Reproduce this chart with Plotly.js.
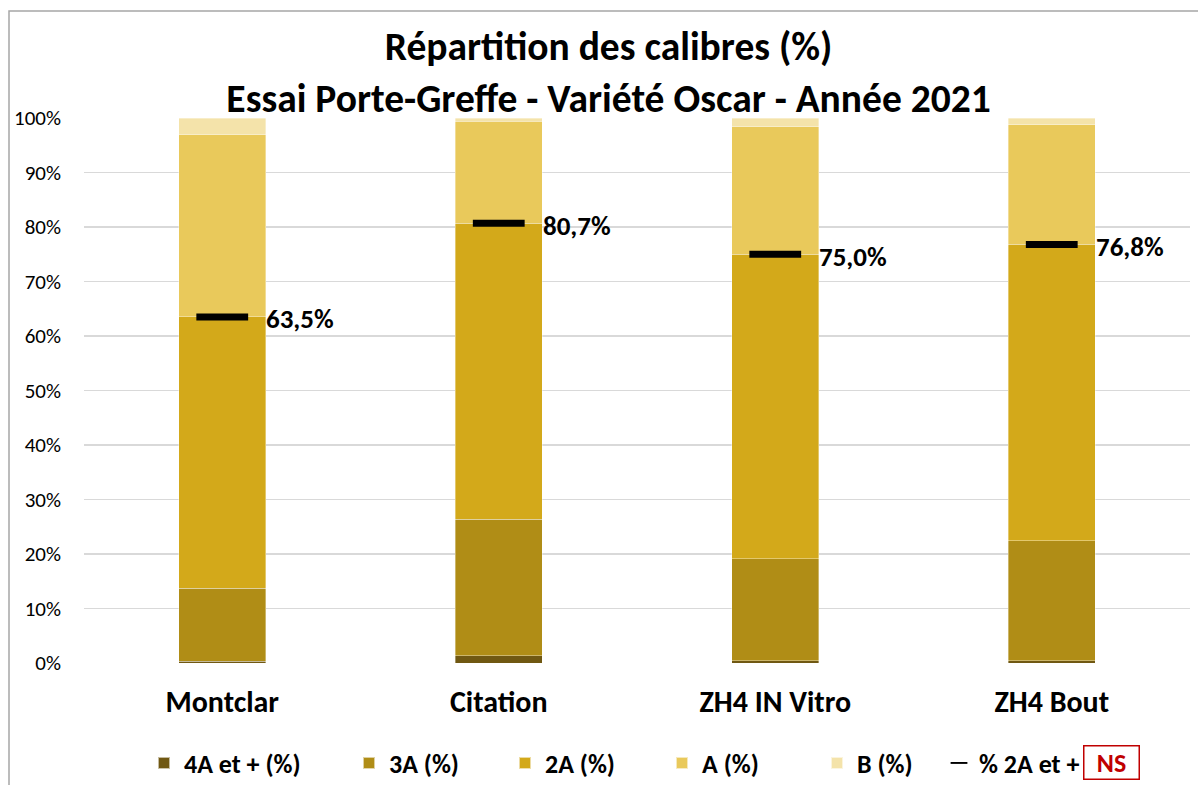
<!DOCTYPE html>
<html>
<head>
<meta charset="utf-8">
<script src="https://cdn.plot.ly/plotly-3.0.1.min.js"></script>
<style>html,body{margin:0;padding:0;background:#fff;}#chart{width:1198px;height:785px;}</style>
</head>
<body>
<div id="chart"></div>
<script>
const categories = ["Montclar", "Citation", "ZH4 IN Vitro", "ZH4 Bout"];
const s4A = [0.3, 1.3, 0.4, 0.4];
const s3A = [13.4, 25.1, 18.7, 22.0];
const s2A = [49.8, 54.3, 55.9, 54.4];
const sA  = [33.4, 18.7, 23.4, 22.0];
const sB  = [3.1, 0.6, 1.6, 1.2];
const pct2AplusValues = [63.5, 80.7, 75.0, 76.8];
const pct2AplusLabels = ["63,5%", "80,7%", "75,0%", "76,8%"];
const seriesNames = ["4A et + (%)", "3A (%)", "2A (%)", "A (%)", "B (%)"];
const seriesColors = ["#705812", "#b08d16", "#d3a91a", "#e9c95b", "#f4e3aa"];
const lineName = "% 2A et +";
const titleLines = ["Répartition des calibres (%)", "Essai Porte-Greffe - Variété Oscar - Année 2021"];
const noteText = "NS";

const FONT = "Carlito, Calibri, Lato, sans-serif";
const W = 1198, H = 785;
const plotL = 84, plotR = 1190, plotT = 118, plotB = 663;
const legendLefts = [144, 349, 505, 662, 817, 939];
const legendY = (H - 763) / H;

const series = [s4A, s3A, s2A, sA, sB];
const legendId = i => (i === 0 ? "legend" : "legend" + (i + 1));
const traces = series.map((vals, i) => ({
  type: "bar",
  name: seriesNames[i],
  x: categories,
  y: vals.map(v => v / 100),
  marker: {color: seriesColors[i], line: {color: "rgba(255,255,255,0.6)", width: 0.6}},
  legend: legendId(i),
  hoverinfo: "skip"
}));
traces.push({
  type: "scatter",
  mode: "markers",
  name: lineName,
  x: categories,
  y: pct2AplusValues.map(v => v / 100),
  marker: {symbol: "line-ew", size: 37, color: "#000", line: {color: "#000", width: 7}},
  legend: legendId(5),
  hoverinfo: "skip"
});

const annotations = categories.map((c, i) => ({
  x: c, y: pct2AplusValues[i] / 100, xref: "x", yref: "y",
  text: "<b>" + pct2AplusLabels[i] + "</b>", showarrow: false,
  xanchor: "left", yanchor: "middle", xshift: 42, yshift: -2,
  font: {family: FONT, size: 27, color: "#000"}
}));
annotations.push({
  x: (1111 - plotL) / (plotR - plotL), y: (plotB - 762) / (plotB - plotT),
  xref: "paper", yref: "paper",
  text: "<b>" + noteText + "</b>", showarrow: false,
  xanchor: "center", yanchor: "middle",
  width: 52, height: 30, align: "center", valign: "middle",
  bordercolor: "#c00000", borderwidth: 1.5, borderpad: 1,
  font: {family: FONT, size: 26, color: "#c00000"}
});

const legendFont = {family: FONT, size: 26, color: "#000", weight: "bold"};
const layout = {
  width: W, height: H,
  margin: {l: plotL, r: W - plotR, t: plotT, b: H - plotB},
  paper_bgcolor: "#fff", plot_bgcolor: "#fff",
  barmode: "stack", bargap: 0.685,
  title: {
    text: "<b>" + titleLines[0] + "</b><br><b>" + titleLines[1] + "</b>",
    x: 0.508, xref: "container", xanchor: "center",
    y: 0.923, yref: "container", yanchor: "top",
    font: {family: FONT, size: 39.5, color: "#000"}
  },
  xaxis: {
    type: "category", showgrid: false, zeroline: false, showline: false,
    ticks: "", ticklabelstandoff: 18,
    tickfont: {family: FONT, size: 30, color: "#000", weight: "bold"}
  },
  yaxis: {
    range: [0, 1], tickvals: [0,0.1,0.2,0.3,0.4,0.5,0.6,0.7,0.8,0.9,1],
    tickformat: ".0%", showgrid: true, gridcolor: "#d9d9d9", gridwidth: 1.5,
    zeroline: false, showline: false, ticks: "", ticklabelstandoff: 22,
    tickfont: {family: FONT, size: 21, color: "#000"}
  },
  shapes: [{
    type: "rect", xref: "paper", yref: "paper",
    x0: (9 - plotL) / (plotR - plotL), x1: (1215 - plotL) / (plotR - plotL),
    y0: (plotB - 800) / (plotB - plotT), y1: (plotB - 11) / (plotB - plotT),
    line: {color: "#a6a6a6", width: 1.5}, fillcolor: "rgba(0,0,0,0)", layer: "below"
  }],
  annotations: annotations,
  showlegend: true
};
legendLefts.forEach((lx, i) => {
  layout[legendId(i)] = {
    orientation: "h", x: lx / W, xref: "container", xanchor: "left",
    y: legendY, yref: "container", yanchor: "middle",
    font: legendFont, bgcolor: "rgba(0,0,0,0)",
    itemsizing: "constant"
  };
});

Plotly.newPlot("chart", traces, layout, {displayModeBar: false, staticPlot: true});
</script>
</body>
</html>
